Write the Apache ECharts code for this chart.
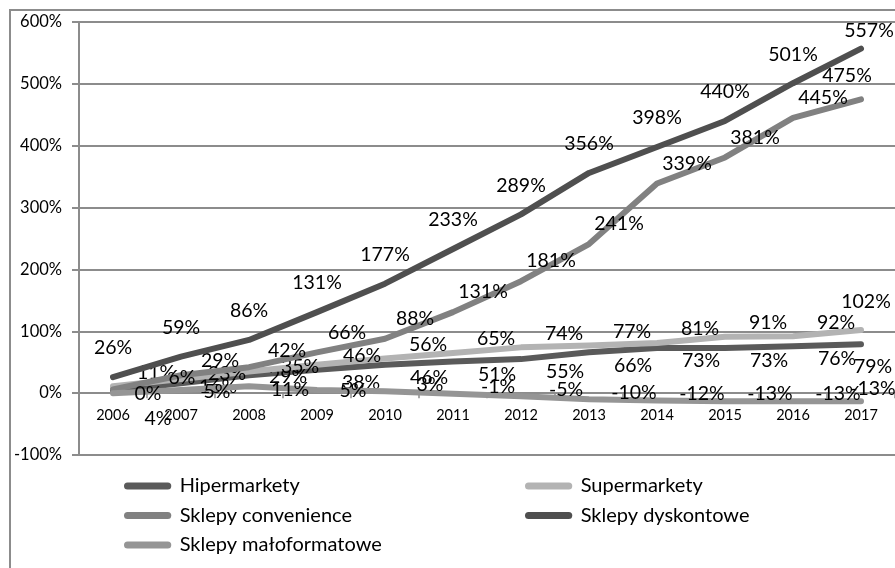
<!DOCTYPE html>
<html><head><meta charset="utf-8">
<script src="https://cdn.jsdelivr.net/npm/echarts@6/dist/echarts.min.js"></script>
<style>html,body{margin:0;padding:0;background:#fff}#c{width:895px;height:568px}</style>
</head><body><div id="c"></div>
<script>
const years = ['2006','2007','2008','2009','2010','2011','2012','2013','2014','2015','2016','2017'];
const hipermarkety = [4, 16, 29, 38, 46, 51, 55, 66, 73, 73, 76, 79];
const supermarkety = [11, 23, 35, 46, 56, 65, 74, 77, 81, 91, 92, 102];
const convenience = [6, 29, 42, 66, 88, 131, 181, 241, 339, 381, 445, 475];
const dyskontowe = [26, 59, 86, 131, 177, 233, 289, 356, 398, 440, 501, 557];
const maloformatowe = [0, 5, 11, 5, 3, -1, -5, -10, -12, -13, -13, -13];
const yTicks = { min: -100, max: 600, step: 100 };

const FONT = 'Lato';
const chart = echarts.init(document.getElementById('c'));

// label placement (styling only): default offset, and a few per-point tweaks as in the original
function mk(name, values, color, off, tweaks, z) {
  return {
    name, type: 'line', z,
    data: values.map((v, i) => tweaks[i] ? { value: v, label: { offset: tweaks[i] } } : v),
    symbol: 'circle', symbolSize: 0.01, showSymbol: true,
    lineStyle: { color, width: 6, cap: 'round', join: 'round' },
    itemStyle: { color },
    label: {
      show: true, position: 'inside', offset: off,
      formatter: p => p.value + '%',
      color: '#000', fontFamily: FONT, fontSize: 19.5
    },
    emphasis: { disabled: true },
    animation: false
  };
}

const series = [
  mk('Hipermarkety', hipermarkety, '#5a5a5a', [44, 13], { 0: [45, 28], 1: [37, 3], 2: [39, 2], 11: [12, 22] }, 2),
  mk('Supermarkety', supermarkety, '#b3b3b3', [43, -14], { 1: [46, -5], 2: [51, -5], 3: [45, -9], 11: [5, -28] }, 3),
  mk('Sklepy convenience', convenience, '#818181', [30, -20], { 0: [69, -12], 1: [39, -14], 2: [38, -16], 11: [-14, -24] }, 4),
  mk('Sklepy dyskontowe', dyskontowe, '#4f4f4f', [0, -29], { 11: [8, -18] }, 5),
  mk('Sklepy małoformatowe', maloformatowe, '#959595', [45, -7], { 0: [35, 1], 1: [36, 2], 2: [41, 3], 3: [36, 1], 11: [12, -12] }, 6)
];

const capsule = 'path://M4,0 L50,0 A4,4 0 0 1 50,8 L4,8 A4,4 0 0 1 4,0 Z';
const legendCommon = {
  orient: 'vertical', padding: 0, itemWidth: 54, itemHeight: 7, itemGap: 9.5,
  icon: capsule, selectedMode: false,
  textStyle: { fontFamily: FONT, fontSize: 20, color: '#000', lineHeight: 20 }
};

chart.setOption({
  animation: false,
  graphic: [{ type: 'rect', shape: { x: 10, y: 10, width: 900, height: 600 },
    style: { fill: 'none', stroke: '#8c8c8c', lineWidth: 2 }, silent: true, z: -1 }],
  grid: [
    { left: 79, right: 0, top: 22, bottom: 113 },
    { left: 79, right: 0, top: 22, bottom: 174 }
  ],
  legend: [
    Object.assign({ left: 124, top: 476, data: ['Hipermarkety', 'Sklepy convenience', 'Sklepy małoformatowe'] }, legendCommon),
    Object.assign({ left: 525, top: 476, data: ['Supermarkety', 'Sklepy dyskontowe'] }, legendCommon)
  ],
  xAxis: [{
    type: 'category', data: years, boundaryGap: true, gridIndex: 0,
    axisLine: { onZero: true, lineStyle: { color: '#8c8c8c', width: 2 } },
    axisTick: { show: true, length: 5, lineStyle: { color: '#8c8c8c', width: 1.5 } },
    axisLabel: { show: false },
    splitLine: { show: false }
  }, {
    type: 'category', data: years, boundaryGap: true, gridIndex: 1,
    axisLine: { show: false }, axisTick: { show: false },
    axisLabel: { color: '#000', fontFamily: FONT, fontSize: 14.5, margin: 14 },
    splitLine: { show: false }
  }],
  yAxis: [{
    type: 'value', min: yTicks.min, max: yTicks.max, interval: yTicks.step, gridIndex: 0,
    axisLine: { show: true, lineStyle: { color: '#8c8c8c', width: 2 } },
    axisTick: { show: true, length: 7, lineStyle: { color: '#8c8c8c', width: 2 } },
    axisLabel: { formatter: '{value}%', color: '#000', fontFamily: FONT, fontSize: 16.5, margin: 17 },
    splitLine: { show: true, lineStyle: { color: '#8c8c8c', width: 2 } }
  }, {
    type: 'value', gridIndex: 1, min: 0, max: 600, show: false
  }],
  series
});
</script></body></html>
